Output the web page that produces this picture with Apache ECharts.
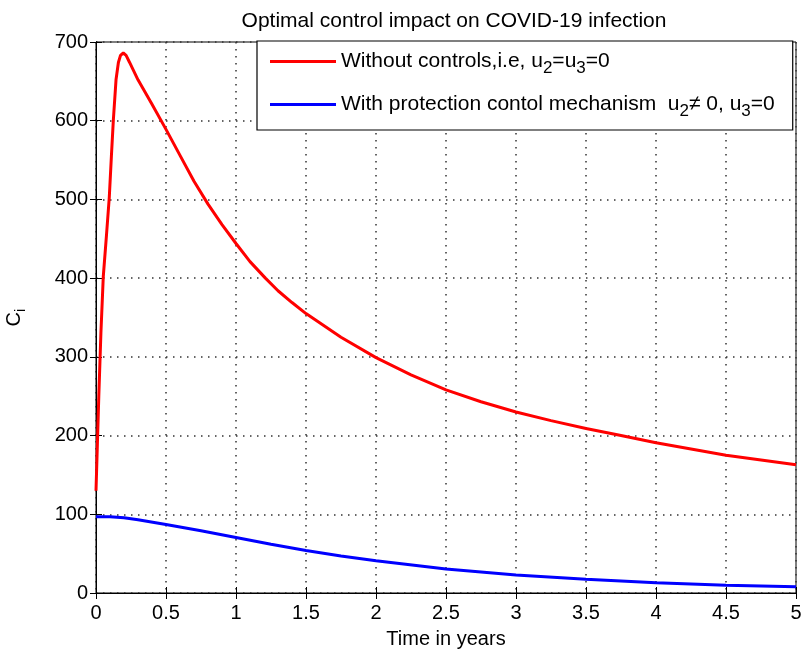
<!DOCTYPE html>
<html>
<head>
<meta charset="utf-8">
<script src="https://cdn.jsdelivr.net/npm/echarts@6/dist/echarts.min.js"></script>
<style>html,body{margin:0;padding:0;background:#fff}#c{width:802px;height:653px}</style>
</head>
<body>
<div id="c"></div>
<script>
var titleText = 'Optimal control impact on COVID-19 infection';
var xName = 'Time in years';
var xTicks = [0, 0.5, 1, 1.5, 2, 2.5, 3, 3.5, 4, 4.5, 5];
var yTicks = [0, 100, 200, 300, 400, 500, 600, 700];
var redName = 'Without controls,i.e, u{s|2}=u{s|3}=0';
var blueName = 'With protection contol mechanism  u{s|2}\u2260 0, u{s|3}=0';
var redT = [0, 0.01, 0.02, 0.035, 0.052, 0.075, 0.095, 0.11, 0.124, 0.143, 0.16, 0.175, 0.195, 0.215, 0.24, 0.3, 0.4, 0.5, 0.6, 0.7, 0.8, 0.9, 1.0, 1.1, 1.21, 1.3, 1.4, 1.5, 1.75, 2.0, 2.25, 2.5, 2.75, 3.0, 3.25, 3.5, 3.75, 4.0, 4.25, 4.5, 4.75, 5.0];
var redC = [130, 190, 250, 330, 402, 455, 503, 555, 601, 652, 674, 683, 686, 683, 674, 652, 621, 589, 556, 523, 494, 468, 444, 421, 400, 384, 369, 355, 325, 299, 277, 258, 243, 230, 219, 209, 200, 191, 183, 175, 169, 163];
var blueT = [0, 0.1, 0.2, 0.3, 0.5, 0.75, 1.0, 1.25, 1.5, 1.75, 2.0, 2.5, 3.0, 3.5, 4.0, 4.5, 5.0];
var blueC = [97, 97, 95.5, 93, 87, 79, 70.5, 62, 54, 47, 41, 30.5, 23, 17.5, 13, 10, 8];

var FONT = 'Liberation Sans';
function pairs(t, v) { return t.map(function (x, i) { return [x, v[i]]; }); }

var chart = echarts.init(document.getElementById('c'), null, { renderer: 'canvas' });
var tickStyle = { show: true, inside: true, length: 6, lineStyle: { color: '#000', width: 1 } };
var splitStyle = { show: true, lineStyle: { color: '#333', width: 1.5, type: [1.5, 5.5] } };
var xBase = { type: 'value', min: xTicks[0], max: xTicks[xTicks.length - 1], interval: xTicks[1] - xTicks[0] };
var yBase = { type: 'value', min: yTicks[0], max: yTicks[yTicks.length - 1], interval: yTicks[1] - yTicks[0] };

chart.setOption({
  animation: false,
  backgroundColor: '#fff',
  title: {
    text: titleText, left: 449, top: 6, textAlign: 'center',
    textStyle: { fontFamily: FONT, fontSize: 21, fontWeight: 'normal', color: '#000' }
  },
  grid: { left: 96, right: 6, top: 42, bottom: 60, show: true, borderColor: '#000', borderWidth: 1, backgroundColor: '#fff', outerBoundsMode: 'none', containLabel: false },
  legend: {
    orient: 'vertical', left: 257, top: 41,
    backgroundColor: '#fff', borderColor: '#000', borderWidth: 1.2, borderRadius: 0,
    padding: [5, 18, 10, 13], itemGap: 12, itemWidth: 66, itemHeight: 3, icon: 'rect',
    data: [redName, blueName],
    textStyle: {
      fontFamily: FONT, fontSize: 21, color: '#000', lineHeight: 26,
      rich: { s: { fontFamily: FONT, fontSize: 17, color: '#000', padding: [14, 0, 0, 0], lineHeight: 17 } }
    }
  },
  xAxis: [
    Object.assign({}, xBase, {
      position: 'bottom', name: xName, nameLocation: 'middle', nameGap: 36,
      nameTextStyle: { fontFamily: FONT, fontSize: 20, color: '#000' },
      axisLine: { show: true, lineStyle: { color: '#000', width: 1 } },
      axisTick: tickStyle,
      axisLabel: { fontFamily: FONT, fontSize: 20, color: '#000', margin: 10 },
      splitLine: splitStyle
    }),
    Object.assign({}, xBase, {
      position: 'top', axisLine: { show: true, lineStyle: { color: '#000' } },
      axisTick: tickStyle, axisLabel: { show: false }, splitLine: { show: false }
    })
  ],
  yAxis: [
    Object.assign({}, yBase, {
      position: 'left', name: '{c|C}{s|i}', nameLocation: 'middle', nameGap: 68, nameRotate: 90,
      nameTextStyle: {
        fontFamily: FONT, fontSize: 20, color: '#000',
        rich: { c: { fontFamily: FONT, fontSize: 20, color: '#000' }, s: { fontFamily: FONT, fontSize: 15, color: '#000', padding: [12, 0, 0, 0] } }
      },
      axisLine: { show: true, lineStyle: { color: '#000', width: 1 } },
      axisTick: tickStyle,
      axisLabel: { fontFamily: FONT, fontSize: 20, color: '#000', margin: 8 },
      splitLine: splitStyle
    }),
    Object.assign({}, yBase, {
      position: 'right', axisLine: { show: true, lineStyle: { color: '#000' } },
      axisTick: tickStyle, axisLabel: { show: false }, splitLine: { show: false }
    })
  ],
  series: [
    {
      name: redName, type: 'line', data: pairs(redT, redC), showSymbol: false, symbol: 'none',
      smooth: false,
      itemStyle: { color: '#ff0000' }, lineStyle: { color: '#ff0000', width: 3 }
    },
    {
      name: blueName, type: 'line', data: pairs(blueT, blueC), showSymbol: false, symbol: 'none',
      smooth: false,
      itemStyle: { color: '#0000ff' }, lineStyle: { color: '#0000ff', width: 3 }
    }
  ]
});
</script>
</body>
</html>
